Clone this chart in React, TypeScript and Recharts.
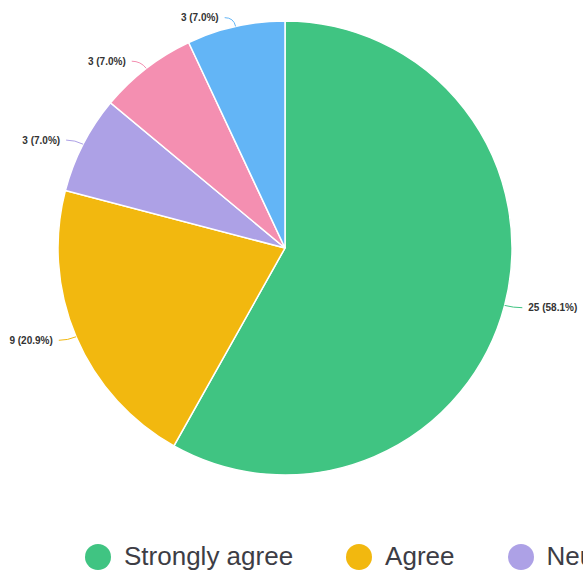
import { PieChart, Pie, Cell, Legend } from "recharts"

const categories = ["Strongly agree", "Agree", "Neutral", "Disagree", "Strongly disagree"]
const counts = [25, 9, 3, 3, 3]
const colors = ["#40c482", "#f2b80f", "#ada1e6", "#f48fb1", "#63b5f6"]

const data = categories.map((name, i) => ({ name, value: counts[i] }))

const RADIAN = Math.PI / 180

const renderLabel = (props: any) => {
  const { cx, cy, midAngle, outerRadius, percent, value, index } = props
  const cos = Math.cos(-midAngle * RADIAN)
  const sin = Math.sin(-midAngle * RADIAN)
  const sx = cx + outerRadius * cos
  const sy = cy + outerRadius * sin
  const mx = cx + (outerRadius + 9) * cos
  const my = cy + (outerRadius + 9) * sin
  const right = cos >= 0
  const ex = mx + (right ? 1 : -1) * 9
  const ey = my
  return (
    <g>
      <path
        d={`M${sx},${sy}Q${mx},${my} ${ex},${ey}`}
        stroke={colors[index]}
        fill="none"
        strokeWidth={1}
      />
      <text
        x={ex + (right ? 6 : -6)}
        y={ey}
        textAnchor={right ? "start" : "end"}
        dominantBaseline="central"
        fill="#333"
        fontSize={10}
        fontWeight="bold"
        fontFamily="Arial, Helvetica, sans-serif"
      >
        {`${value} (${(percent * 100).toFixed(1)}%)`}
      </text>
    </g>
  )
}

// legend keeps the data order (recharts sorts payload by default)
const CustomLegend = () => (
  <div style={{ display: "flex", alignItems: "center", whiteSpace: "nowrap" }}>
    {categories.map((name, i) => (
      <div key={name} style={{ display: "flex", alignItems: "center", marginRight: 53 }}>
        <span
          style={{
            width: 26,
            height: 26,
            borderRadius: "50%",
            background: colors[i],
            display: "inline-block",
            marginRight: 13,
          }}
        />
        <span style={{ fontSize: 26, color: "#3d3d45", fontFamily: "Arial, Helvetica, sans-serif" }}>
          {name}
        </span>
      </div>
    ))}
  </div>
)

export default function App() {
  return (
    <div
      style={{
        position: "fixed",
        left: 0,
        top: 0,
        width: 583,
        height: 571,
        overflow: "hidden",
        background: "#fff",
      }}
    >
      <PieChart width={583} height={571} margin={{ top: 0, right: 0, bottom: 0, left: 0 }}>
        <Pie
          data={data}
          dataKey="value"
          nameKey="name"
          cx={285}
          cy={248}
          outerRadius={227}
          startAngle={90}
          endAngle={-270}
          stroke="#fff"
          strokeWidth={1.5}
          label={renderLabel}
          labelLine={false}
          isAnimationActive={false}
        >
          {data.map((_, i) => (
            <Cell key={i} fill={colors[i]} />
          ))}
        </Pie>
        <Legend
          content={<CustomLegend />}
          width={1000}
          wrapperStyle={{ left: 85, top: 541, width: 1000 }}
        />
      </PieChart>
    </div>
  )
}
